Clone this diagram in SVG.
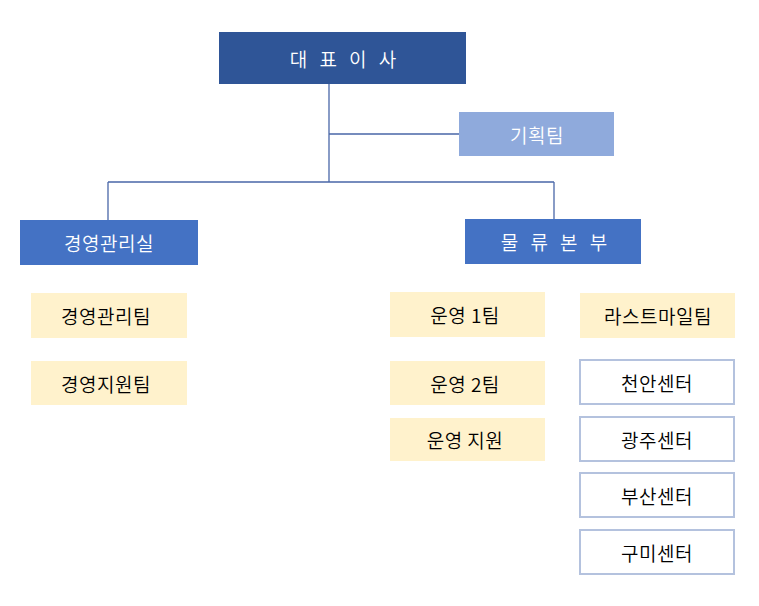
<svg xmlns="http://www.w3.org/2000/svg" width="759" height="606" viewBox="0 0 759 606">
<style>
text{font-family:"Noto Sans CJK KR","Noto Sans",sans-serif;font-size:19px;font-weight:350;letter-spacing:0.5px;text-anchor:middle;dominant-baseline:central}
.w{fill:#fff}
.k{fill:#000}
.team{fill:#FFF2CC}
.center{fill:#fff;stroke:#B4C2DE;stroke-width:2}
.ln{stroke:#4A67A8;stroke-width:1.3;fill:none}
</style>
<rect width="759" height="606" fill="#fff"/>
<g id="connectors">
<path class="ln" d="M329,84V182M329,134H459M108,182H554M108,182V220M554,182V219"/>
</g>
<g id="ceo"><rect x="219" y="32" width="247" height="52" fill="#2F5597"/><text class="w" x="345" y="58" style="font-size:19px;letter-spacing:4px">대 표 이 사</text></g>
<g id="planning"><rect x="459" y="112" width="155" height="44" fill="#8FAADC"/><text class="w" x="537" y="134">기획팀</text></g>
<g id="mgmt"><rect x="20" y="220" width="178" height="45" fill="#4472C4"/><text class="w" x="109" y="242">경영관리실</text></g>
<g id="logistics"><rect x="465" y="219" width="176" height="45" fill="#4472C4"/><text class="w" x="556" y="241" style="letter-spacing:4px">물 류 본 부</text></g>
<g id="mgmt-team"><rect class="team" x="31" y="293" width="156" height="45"/><text class="k" x="106" y="315">경영관리팀</text></g>
<g id="support-team"><rect class="team" x="31" y="361" width="156" height="44"/><text class="k" x="106" y="383">경영지원팀</text></g>
<g id="ops1"><rect class="team" x="390" y="292" width="155" height="45"/><text class="k" x="465" y="314">운영 1팀</text></g>
<g id="ops2"><rect class="team" x="390" y="361" width="155" height="44"/><text class="k" x="465" y="383">운영 2팀</text></g>
<g id="ops-support"><rect class="team" x="390" y="418" width="155" height="43"/><text class="k" x="465" y="439">운영 지원</text></g>
<g id="lastmile"><rect class="team" x="580" y="293" width="155" height="45"/><text class="k" x="658" y="315">라스트마일팀</text></g>
<g id="cheonan"><rect class="center" x="580" y="360" width="154" height="44"/><text class="k" x="657" y="382">천안센터</text></g>
<g id="gwangju"><rect class="center" x="580" y="417" width="154" height="44"/><text class="k" x="657" y="439">광주센터</text></g>
<g id="busan"><rect class="center" x="580" y="473" width="154" height="44"/><text class="k" x="657" y="495">부산센터</text></g>
<g id="gumi"><rect class="center" x="580" y="530" width="154" height="44"/><text class="k" x="657" y="552">구미센터</text></g>
</svg>
